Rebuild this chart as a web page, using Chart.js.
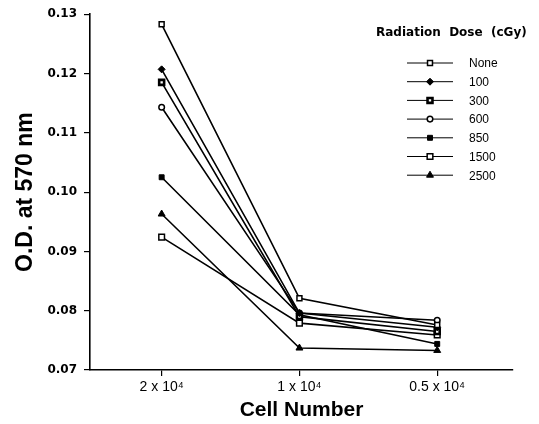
<!DOCTYPE html>
<html>
<head>
<meta charset="utf-8">
<script src="https://cdn.jsdelivr.net/npm/chart.js@4/dist/chart.umd.min.js"></script>
<style>
  html, body { margin: 0; padding: 0; background: #fff; }
  #wrap { width: 539px; height: 424px; }
</style>
</head>
<body>
<div id="wrap"><canvas id="myChart" width="539" height="424"></canvas></div>
<script>
const FONT = '"Liberation Sans", Arial, Helvetica, sans-serif';
const WIDE = '"DejaVu Sans", "Liberation Sans", sans-serif';

// x positions of the three cell densities
const cellLabels = ['2 x 10\u2074', '1 x 10\u2074', '0.5 x 10\u2074'];
const yTicks = [0.07, 0.08, 0.09, 0.10, 0.11, 0.12, 0.13];

const doseNames = ['None', '100', '300', '600', '850', '1500', '2500'];
const odNone = [0.1283, 0.0821, 0.0776];
const od100 = [0.1207, 0.0796, 0.0772];
const od300 = [0.1185, 0.0790, 0.0765];
const od600 = [0.1143, 0.0796, 0.0784];
const od850 = [0.1025, 0.0793, 0.0744];
const od1500 = [0.0924, 0.0779, 0.0759];
const od2500 = [0.0963, 0.0737, 0.0733];

const seriesValues = [odNone, od100, od300, od600, od850, od1500, od2500];
const markers = [
  {style: 'rect', fill: '#fff', r: 3.5, bw: 1.5},
  {style: 'rectRot', fill: '#000', r: 3.5, bw: 1},
  {style: 'rect', fill: '#fff', r: 3.5, bw: 2.6},
  {style: 'circle', fill: '#fff', r: 2.8, bw: 1.5},
  {style: 'rect', fill: '#000', r: 3.5, bw: 1},
  {style: 'rect', fill: '#fff', r: 4, bw: 1.5},
  {style: 'triangle', fill: '#000', r: 4, bw: 1}
];

const datasets = doseNames.map((name, i) => ({
  label: name,
  data: seriesValues[i].map((v, j) => ({x: j, y: v})),
  borderColor: '#000',
  borderWidth: 1.6,
  pointStyle: markers[i].style,
  pointRadius: markers[i].r,
  pointBackgroundColor: markers[i].fill,
  pointBorderColor: '#000',
  pointBorderWidth: markers[i].bw,
  tension: 0
}));

// legend drawn inside the plot, like the original figure
const doseLegend = {
  id: 'doseLegend',
  afterDraw(chart) {
    const ctx = chart.ctx;
    ctx.save();
    ctx.fillStyle = '#000';
    ctx.font = 'bold 12px ' + WIDE;
    ctx.textBaseline = 'middle';
    ctx.textAlign = 'left';
    ctx.fillText('Radiation  Dose  (cGy)', 376, 33);
    ctx.font = '12px ' + FONT;
    doseNames.forEach((name, i) => {
      const y = 63 + i * 18.7;
      ctx.strokeStyle = '#000';
      ctx.lineWidth = 1;
      ctx.beginPath();
      ctx.moveTo(407, y);
      ctx.lineTo(453, y);
      ctx.stroke();
      const m = markers[i];
      ctx.fillStyle = m.fill;
      ctx.strokeStyle = '#000';
      ctx.lineWidth = m.bw;
      Chart.helpers.drawPoint(ctx, {pointStyle: m.style, radius: m.r, borderWidth: m.bw, rotation: 0}, 430, y);
      ctx.fillStyle = '#000';
      ctx.fillText(name, 469, y + 1);
    });
    ctx.restore();
  }
};

const ctx = document.getElementById('myChart').getContext('2d');
const myChart = new Chart(ctx, {
  type: 'line',
  data: {datasets: datasets},
  plugins: [doseLegend],
  options: {
    responsive: false,
    animation: false,
    layout: {padding: {left: 0, top: 14, right: 26, bottom: 0}},
    plugins: {legend: {display: false}, tooltip: {enabled: false}},
    scales: {
      x: {
        type: 'linear',
        min: -0.52,
        max: 2.55,
        afterBuildTicks: scale => { scale.ticks = [{value: 0}, {value: 1}, {value: 2}]; },
        afterFit: scale => { scale.height = 54; },
        grid: {drawOnChartArea: false, color: '#000', tickLength: 6, lineWidth: 1.2},
        border: {color: '#000', width: 1.6},
        ticks: {
          color: '#000',
          padding: 3,
          font: {family: FONT, size: 14},
          callback: v => cellLabels[v]
        },
        title: {
          display: true,
          text: 'Cell Number',
          color: '#000',
          padding: {top: 0, bottom: 1},
          font: {family: FONT, size: 21, weight: 'bold'}
        }
      },
      y: {
        min: 0.07,
        max: 0.13,
        afterBuildTicks: scale => { scale.ticks = yTicks.map(v => ({value: v})); },
        afterFit: scale => { scale.width = 90; },
        grid: {drawOnChartArea: false, color: '#000', tickLength: 6, lineWidth: 1.2},
        border: {color: '#000', width: 1.6},
        ticks: {
          color: '#000',
          padding: 7,
          font: {family: WIDE, size: 12, weight: 'bold'},
          callback: v => v.toFixed(2)
        },
        title: {
          display: true,
          text: 'O.D. at 570 nm',
          color: '#000',
          padding: {top: 12, bottom: 0},
          font: {family: FONT, size: 23, weight: 'bold'}
        }
      }
    }
  }
});
</script>
</body>
</html>
